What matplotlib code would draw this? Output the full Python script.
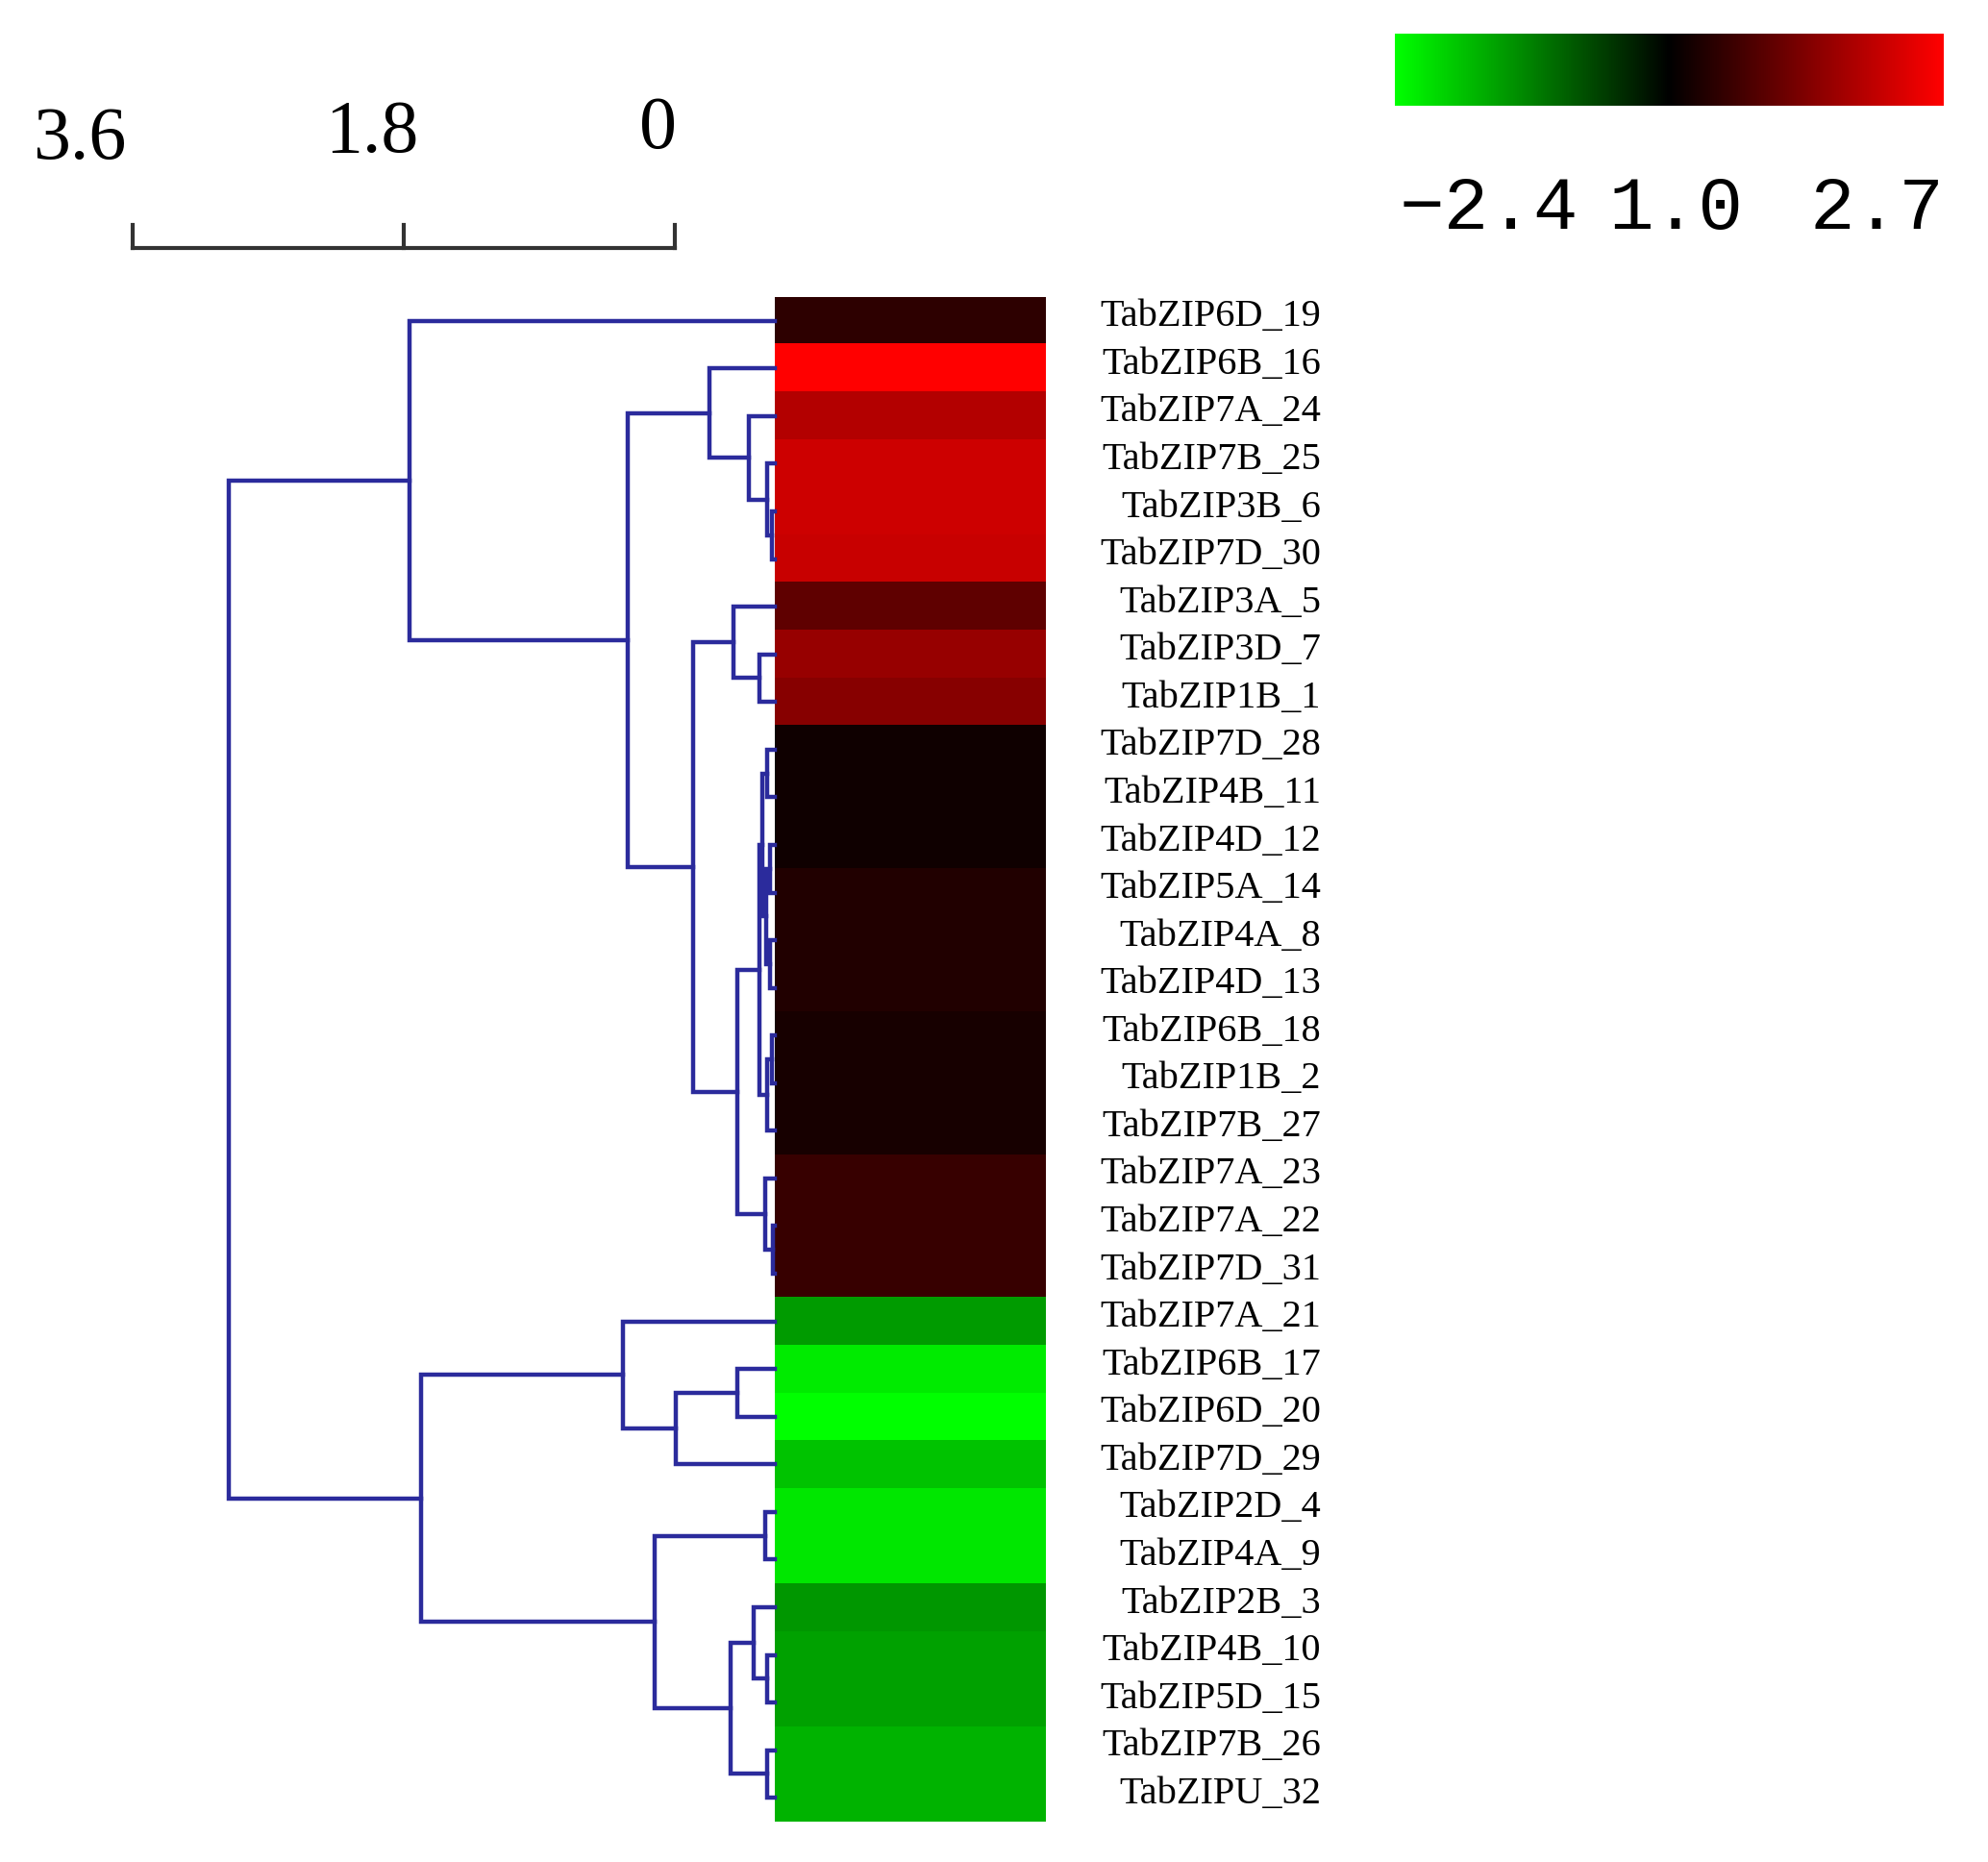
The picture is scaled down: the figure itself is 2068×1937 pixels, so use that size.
import numpy as np
import matplotlib
matplotlib.use("Agg")
import matplotlib.pyplot as plt
from matplotlib.colors import LinearSegmentedColormap, Normalize
from matplotlib.cm import ScalarMappable
from matplotlib.transforms import blended_transform_factory

# genes, top to bottom (leaf order of the dendrogram)
genes = ["TabZIP6D_19", "TabZIP6B_16", "TabZIP7A_24", "TabZIP7B_25", "TabZIP3B_6",
         "TabZIP7D_30", "TabZIP3A_5", "TabZIP3D_7", "TabZIP1B_1", "TabZIP7D_28",
         "TabZIP4B_11", "TabZIP4D_12", "TabZIP5A_14", "TabZIP4A_8", "TabZIP4D_13",
         "TabZIP6B_18", "TabZIP1B_2", "TabZIP7B_27", "TabZIP7A_23", "TabZIP7A_22",
         "TabZIP7D_31", "TabZIP7A_21", "TabZIP6B_17", "TabZIP6D_20", "TabZIP7D_29",
         "TabZIP2D_4", "TabZIP4A_9", "TabZIP2B_3", "TabZIP4B_10", "TabZIP5D_15",
         "TabZIP7B_26", "TabZIPU_32"]

# expression values
expr = [0.60, 2.70, 1.93, 2.20, 2.20, 2.15, 1.10, 1.65, 1.50, 0.30,
        0.30, 0.30, 0.47, 0.47, 0.47, 0.37, 0.37, 0.37, 0.70, 0.70,
        0.70, -1.40, -2.20, -2.40, -1.80, -2.15, -2.15, -1.35, -1.45, -1.45,
        -1.63, -1.63]

# merges like a linkage table: (node a, node b, height); new nodes numbered from 32
merges = [(4, 5, 0.02), (3, 32, 0.05), (2, 33, 0.17), (1, 34, 0.43),
          (7, 8, 0.10), (6, 36, 0.275),
          (9, 10, 0.05), (11, 12, 0.03), (13, 14, 0.03), (39, 40, 0.06), (38, 41, 0.08),
          (15, 16, 0.02), (43, 17, 0.05), (42, 44, 0.10),
          (19, 20, 0.01), (18, 46, 0.064), (45, 47, 0.245),
          (37, 48, 0.54), (35, 49, 0.97), (0, 50, 2.41),
          (22, 23, 0.245), (52, 24, 0.65), (21, 53, 1.00),
          (25, 26, 0.064), (28, 29, 0.05), (27, 56, 0.14), (30, 31, 0.05),
          (57, 58, 0.29), (55, 59, 0.79), (54, 60, 2.33), (51, 61, 3.60)]

scale_ticks = [3.6, 1.8, 0]
cbar_min, cbar_max = -2.4, 2.7
cbar_labels = ["\u22122.4", "1.0", "2.7"]

W, H = 2068, 1937
fig = plt.figure(figsize=(W / 100, H / 100), dpi=100)

def rect(x0, y0, x1, y1):
    # pixel box (from top-left) -> figure fraction rect
    return [x0 / W, 1 - y1 / H, (x1 - x0) / W, (y1 - y0) / H]

cmap = LinearSegmentedColormap.from_list("gkr", ["#00ff00", "#000000", "#ff0000"])
norm = Normalize(vmin=cbar_min, vmax=cbar_max)
n = len(genes)
line_col = "#2b2b9c"

# heatmap
ax_h = fig.add_axes(rect(806, 309, 1088, 1895))
ax_h.imshow(np.array(expr).reshape(-1, 1), aspect="auto", cmap=cmap, norm=norm,
            interpolation="nearest")
ax_h.set_xlim(-0.5, 0.5)
ax_h.set_ylim(n - 0.5, -0.5)
ax_h.axis("off")

tr = blended_transform_factory(fig.transFigure, ax_h.transData)
for i, g in enumerate(genes):
    ax_h.text(1374 / W, i - 0.08, g, transform=tr, ha="right", va="center",
              fontsize=29, family="Liberation Serif")

# dendrogram
px_per_unit = 157.8
ax_d = fig.add_axes(rect(100, 309, 806, 1895))
ax_d.set_xlim((806 - 100) / px_per_unit, 0)
ax_d.set_ylim(n - 0.5, -0.5)
ax_d.axis("off")
pos = {i: float(i) for i in range(n)}
hgt = {i: 0.0 for i in range(n)}
for k, (a, b, h) in enumerate(merges):
    ax_d.plot([hgt[a], h, h, hgt[b]], [pos[a], pos[a], pos[b], pos[b]],
              color=line_col, lw=3.2, solid_joinstyle="miter", clip_on=False)
    pos[n + k] = (pos[a] + pos[b]) / 2
    hgt[n + k] = h

# distance scale bar
ax_s = fig.add_axes(rect(138, 225, 702, 262))
ax_s.set_xlim(scale_ticks[0], scale_ticks[-1])
ax_s.set_ylim(0, 1)
ax_s.axis("off")
ax_s.plot([scale_ticks[0], scale_ticks[-1]], [0.1, 0.1], color="#333333", lw=3, clip_on=False)
for t in scale_ticks:
    ax_s.plot([t, t], [0.1, 0.75], color="#333333", lw=3, clip_on=False)
for t, xp, yp in zip(scale_ticks, [83, 387, 684], [165, 158, 154]):
    fig.text(xp / W, 1 - yp / H, f"{t:g}", ha="center", va="baseline",
             fontsize=56, family="Liberation Serif")

# colour key
ax_c = fig.add_axes(rect(1451, 35, 2022, 110))
cb = fig.colorbar(ScalarMappable(norm=norm, cmap=cmap), cax=ax_c, orientation="horizontal")
cb.set_ticks([])
cb.outline.set_visible(False)
for lab, xp, ha in zip(cbar_labels, [1456, 1743, 2022], ["left", "center", "right"]):
    fig.text(xp / W, 1 - 238 / H, lab, ha=ha, va="baseline", fontsize=56,
             family=["Liberation Mono", "DejaVu Sans Mono"])

fig.savefig("out.png", dpi=100, facecolor="white")
